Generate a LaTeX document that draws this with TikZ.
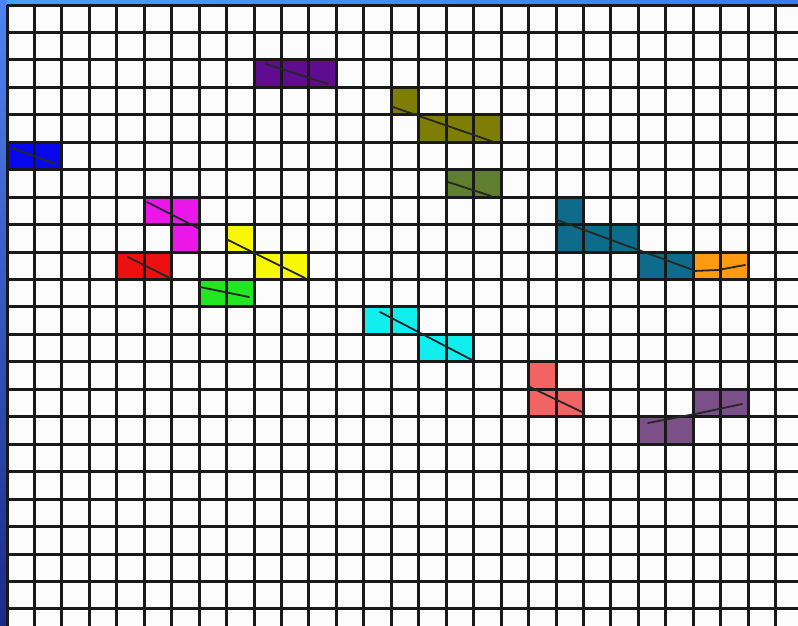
\documentclass[tikz,border=0pt]{standalone}
\definecolor{cblue}{HTML}{0808EE}
\definecolor{cpurple}{HTML}{5E0C90}
\definecolor{colive}{HTML}{7E7E06}
\definecolor{colgreen}{HTML}{5F7F2E}
\definecolor{cteal}{HTML}{0E6B8C}
\definecolor{corange}{HTML}{FF9A12}
\definecolor{cmagenta}{HTML}{EA16EA}
\definecolor{cred}{HTML}{EE1010}
\definecolor{cyellow}{HTML}{F8F806}
\definecolor{cgreen}{HTML}{22E622}
\definecolor{ccyan}{HTML}{12EEEE}
\definecolor{csalmon}{HTML}{F26464}
\definecolor{cmauve}{HTML}{7B4F88}
\definecolor{bordtopL}{HTML}{48A0F6}
\definecolor{bordtopR}{HTML}{3A7CF0}
\definecolor{bordleftT}{HTML}{4E84F2}
\definecolor{bordleftB}{HTML}{1C2A88}
\newcommand\cellfill[3]{\fill[#1] ({7+#2*27.45},{5+#3*27.45}) rectangle ++(27.45,27.45);}
\tikzset{gridline/.style={line width=3pt, black!90},
  diag/.style={line width=1.8pt, black!85, line cap=round}}
\begin{document}
\begin{tikzpicture}[x=1pt,y=-1pt]
\useasboundingbox (0,0) rectangle (798,625);
\fill[white!98!gray] (0,0) rectangle (798,625);
\shade[left color=bordtopL, right color=bordtopR] (0,0) rectangle (798,5.5);
\shade[top color=bordleftT, bottom color=bordleftB] (0,0) rectangle (6.5,625);
% coloured cells
\cellfill{cblue}{0}{5}\cellfill{cblue}{1}{5}
\cellfill{cpurple}{9}{2}\cellfill{cpurple}{10}{2}\cellfill{cpurple}{11}{2}
\cellfill{colive}{14}{3}\cellfill{colive}{15}{4}\cellfill{colive}{16}{4}\cellfill{colive}{17}{4}
\cellfill{colgreen}{16}{6}\cellfill{colgreen}{17}{6}
\cellfill{cteal}{20}{7}\cellfill{cteal}{20}{8}\cellfill{cteal}{21}{8}\cellfill{cteal}{22}{8}
\cellfill{cteal}{23}{9}\cellfill{cteal}{24}{9}
\cellfill{corange}{25}{9}\cellfill{corange}{26}{9}
\cellfill{cmagenta}{5}{7}\cellfill{cmagenta}{6}{7}\cellfill{cmagenta}{6}{8}
\cellfill{cred}{4}{9}\cellfill{cred}{5}{9}
\cellfill{cyellow}{8}{8}\cellfill{cyellow}{9}{9}\cellfill{cyellow}{10}{9}
\cellfill{cgreen}{7}{10}\cellfill{cgreen}{8}{10}
\cellfill{ccyan}{13}{11}\cellfill{ccyan}{14}{11}\cellfill{ccyan}{15}{12}\cellfill{ccyan}{16}{12}
\cellfill{csalmon}{19}{13}\cellfill{csalmon}{19}{14}\cellfill{csalmon}{20}{14}
\cellfill{cmauve}{25}{14}\cellfill{cmauve}{26}{14}\cellfill{cmauve}{23}{15}\cellfill{cmauve}{24}{15}
% grid
\begin{scope}
\clip (0,0) rectangle (798,625);
\foreach \k in {0,...,29} \draw[gridline] ({7+\k*27.45},5) -- ({7+\k*27.45},630);
\foreach \k in {0,...,23} \draw[gridline] (7,{5+\k*27.45}) -- (803,{5+\k*27.45});
\end{scope}
% diagonal strokes
\draw[diag] (12,148) -- (56,164);
\draw[diag] (266,64) -- (328,84);
\draw[diag] (393,107) -- (494,142);
\draw[diag] (448,182) -- (491,196);
\draw[diag] (557,220) -- (693,270);
\draw[diag] (693,271) -- (718,270) -- (745,265);
\draw[diag] (147,202) -- (198,228);
\draw[diag] (128,257) -- (170,278);
\draw[diag] (228,240) -- (305,278);
\draw[diag] (200,287) -- (249,297);
\draw[diag] (380,312) -- (472,360);
\draw[diag] (530,387) -- (582,412);
\draw[diag] (648,423) -- (700,413) -- (742,404);
\end{tikzpicture}
\end{document}
